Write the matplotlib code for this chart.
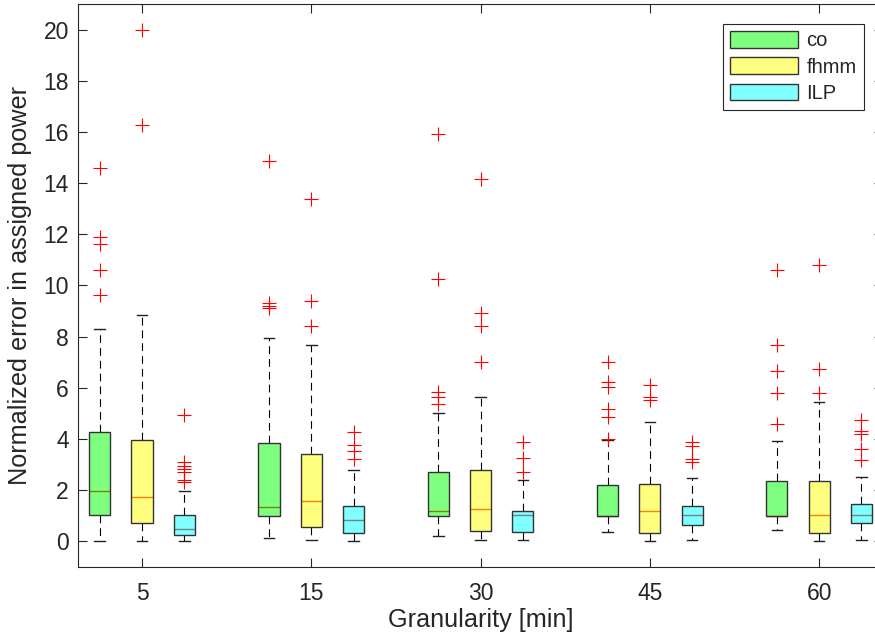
import matplotlib
matplotlib.use("Agg")
import matplotlib.pyplot as plt
from matplotlib.patches import Patch

plt.rcParams['font.family'] = ['Liberation Sans', 'DejaVu Sans']

granularity = ['5', '15', '30', '45', '60']
methods = ['co', 'fhmm', 'ILP']

co_whislo = [0.0, 0.13, 0.21, 0.34, 0.43]
co_q1 = [1.01, 0.99, 0.99, 1.0, 1.0]
co_med = [1.97, 1.33, 1.16, 1.0, 1.0]
co_q3 = [4.25, 3.83, 2.69, 2.19, 2.36]
co_whishi = [8.28, 7.93, 5.01, 3.95, 3.93]
co_fliers = [[14.6, 11.9, 11.6, 10.59, 9.61],
             [14.88, 9.3, 9.2, 9.1],
             [15.9, 10.24, 5.82, 5.65, 5.35],
             [7.02, 6.21, 6.01, 5.17, 4.84, 3.99],
             [10.62, 7.68, 6.64, 5.78, 4.58]]

fhmm_whislo = [0.0, 0.03, 0.05, 0.01, 0.0]
fhmm_q1 = [0.71, 0.55, 0.4, 0.3, 0.3]
fhmm_med = [1.71, 1.57, 1.25, 1.19, 1.02]
fhmm_q3 = [3.94, 3.41, 2.79, 2.23, 2.36]
fhmm_whishi = [8.83, 7.65, 5.65, 4.67, 5.43]
fhmm_fliers = [[20.0, 16.28],
               [13.38, 9.4, 8.42],
               [14.17, 8.91, 8.41, 6.99],
               [6.12, 5.65, 5.52],
               [10.78, 6.73, 5.78]]

ilp_whislo = [0.0, 0.0, 0.05, 0.04, 0.04]
ilp_q1 = [0.24, 0.31, 0.36, 0.63, 0.7]
ilp_med = [0.49, 0.84, 1.02, 1.02, 1.02]
ilp_q3 = [1.01, 1.36, 1.19, 1.36, 1.44]
ilp_whishi = [1.94, 2.78, 2.4, 2.48, 2.52]
ilp_fliers = [[4.95, 3.1, 2.95, 2.8, 2.7, 2.4, 2.3],
              [4.27, 3.76, 3.52, 3.22],
              [3.89, 3.26, 2.69],
              [3.89, 3.7, 3.21, 3.08],
              [4.75, 4.32, 4.19, 3.6, 3.17]]

series = [
    (co_whislo, co_q1, co_med, co_q3, co_whishi, co_fliers),
    (fhmm_whislo, fhmm_q1, fhmm_med, fhmm_q3, fhmm_whishi, fhmm_fliers),
    (ilp_whislo, ilp_q1, ilp_med, ilp_q3, ilp_whishi, ilp_fliers),
]
face_colors = [(0, 1, 0, 0.5), (1, 1, 0, 0.5), (0, 1, 1, 0.5)]
edge_color = '#333333'
text_color = '#262626'

fig = plt.figure(figsize=(8.75, 6.43), dpi=100)
ax = fig.add_axes([0.0897, 0.1187, 0.919, 0.875])

group_gap = 4
for m, (wl, q1, med, q3, wh, fl) in enumerate(series):
    stats = []
    positions = []
    for g in range(len(granularity)):
        stats.append(dict(whislo=wl[g], q1=q1[g], med=med[g], q3=q3[g],
                          whishi=wh[g], fliers=fl[g]))
        positions.append(1 + g * group_gap + m)
    ax.bxp(stats, positions=positions, widths=0.5, capwidths=0.25,
           patch_artist=True, showfliers=True,
           boxprops=dict(facecolor=face_colors[m], edgecolor=edge_color,
                         linewidth=1.0, zorder=3),
           medianprops=dict(color='red', linewidth=1.0, zorder=2),
           whiskerprops=dict(color='black', linewidth=0.8,
                             linestyle=(0, (7, 4.5)), zorder=2),
           capprops=dict(color='#222222', linewidth=1.0, zorder=2),
           flierprops=dict(marker='+', markeredgecolor='red',
                           markersize=10, markeredgewidth=0.8,
                           linestyle='none'))

ax.set_xlim(0.5, 19.5)
ax.set_ylim(-1, 21)
ax.set_xticks([2 + g * group_gap for g in range(len(granularity))])
ax.set_xticklabels(granularity)
ax.set_yticks(range(0, 21, 2))

ax.tick_params(axis='both', direction='in', length=6.5, width=0.8,
               colors=text_color, labelsize=16.5, top=True, right=True)
ax.tick_params(axis='x', pad=11)
ax.tick_params(axis='y', pad=7)
for sp in ax.spines.values():
    sp.set_color(text_color)
    sp.set_linewidth(0.8)

ax.set_xlabel('Granularity [min]', fontsize=18.2, color=text_color, labelpad=2)
ax.set_ylabel('Normalized error in assigned power', fontsize=18.2,
              color=text_color, labelpad=8)

handles = [Patch(facecolor=face_colors[i], edgecolor=edge_color,
                 linewidth=1.0, label=methods[i]) for i in range(3)]
leg = ax.legend(handles=handles, loc='upper right',
                bbox_to_anchor=(0.9766, 0.9645), borderaxespad=0,
                fontsize=14.5, handlelength=3.4, handleheight=0.9,
                labelspacing=0.35, handletextpad=0.4, borderpad=0.35,
                fancybox=False, framealpha=1)
leg.get_frame().set_edgecolor(text_color)
leg.get_frame().set_linewidth(0.8)
for t in leg.get_texts():
    t.set_color(text_color)

fig.savefig('out.png', dpi=100)
